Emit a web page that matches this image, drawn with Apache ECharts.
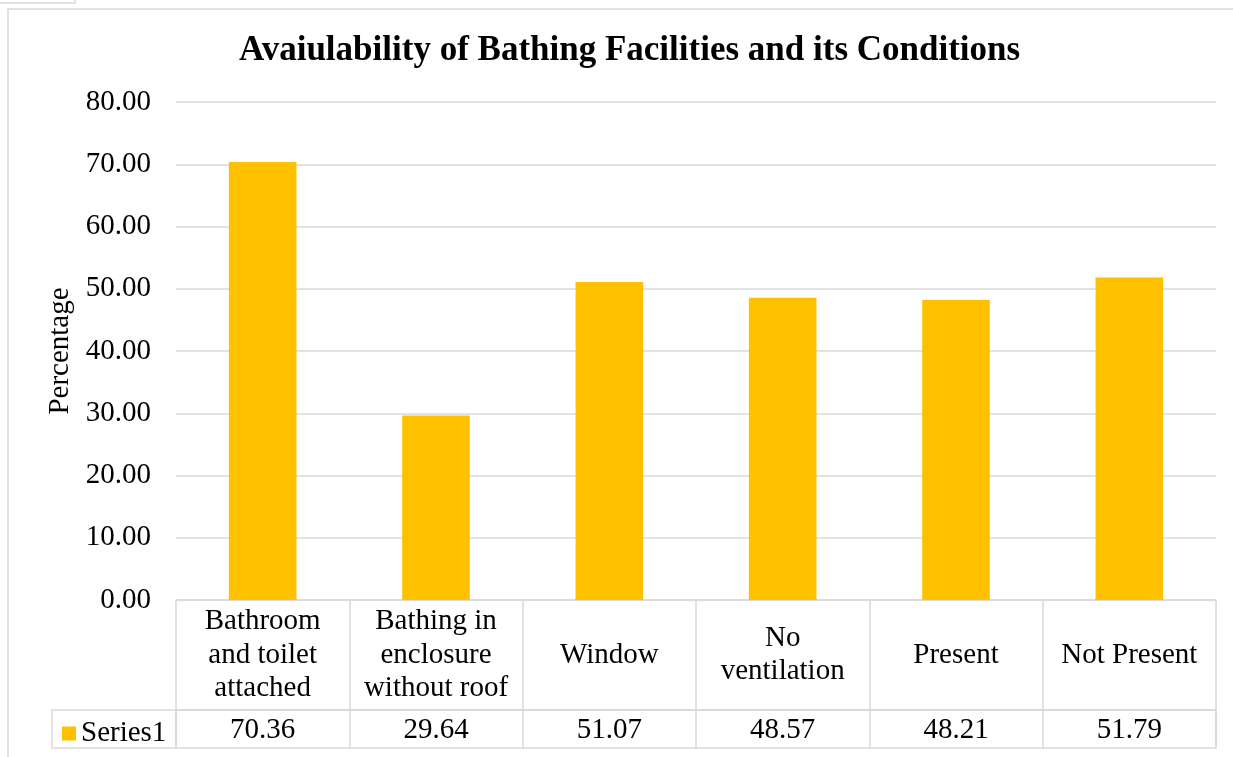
<!DOCTYPE html>
<html>
<head>
<meta charset="utf-8">
<script src="https://cdn.jsdelivr.net/npm/echarts@6/dist/echarts.min.js"></script>
<style>
	html, body { margin: 0; padding: 0; background: #fff; }
	#chart { width: 1233px; height: 757px; }
</style>
</head>
<body>
<div id="chart"></div>
<script>
// data
const categories = [
	'Bathroom\nand toilet\nattached',
	'Bathing in\nenclosure\nwithout roof',
	'Window',
	'No\nventilation',
	'Present',
	'Not Present'
];
const series1 = [70.36, 29.64, 51.07, 48.57, 48.21, 51.79];
const yTicks = [0, 10, 20, 30, 40, 50, 60, 70, 80];

const font = '"Liberation Serif", "Times New Roman", serif';
const gridColor = '#d9d9d9';

let myChart = echarts.init(document.getElementById('chart'));

let option = {
	animation: false,
	textStyle: { fontFamily: font, color: '#000' },
	title: {
		text: 'Avaiulability of Bathing Facilities and its Conditions',
		left: 234,
		top: 28,
		textStyle: { fontFamily: font, fontSize: 35, fontWeight: 'bold', color: '#000' }
	},
	legend: {
		data: ['Series1'],
		left: 57,
		top: 714,
		icon: 'rect',
		itemWidth: 14,
		itemHeight: 14,
		itemGap: 5,
		textStyle: { fontFamily: font, fontSize: 29, color: '#000', padding: [0, 0, 0, 0] }
	},
	grid: { left: 176, right: 17, top: 102, bottom: 157 },
	xAxis: [
		{
			// category row of the data table
			type: 'category',
			data: categories,
			axisLine: { lineStyle: { color: gridColor, width: 1.5 } },
			axisTick: { show: true, length: 148, lineStyle: { color: gridColor, width: 1.5 } },
			axisLabel: {
				interval: 0,
				margin: 55,
				verticalAlign: 'middle',
				fontFamily: font,
				fontSize: 29,
				lineHeight: 33.5,
				color: '#000'
			}
		},
		{
			// value row of the data table
			type: 'category',
			data: categories,
			position: 'bottom',
			offset: 110,
			axisLine: { show: true, lineStyle: { color: gridColor, width: 1.5 } },
			axisTick: { show: false },
			axisLabel: {
				interval: 0,
				margin: 20,
				verticalAlign: 'middle',
				fontFamily: font,
				fontSize: 29,
				color: '#000',
				formatter: function (v, i) {
					return series1[i].toFixed(2);
				}
			}
		}
	],
	yAxis: {
		type: 'value',
		min: yTicks[0],
		max: yTicks[yTicks.length - 1],
		interval: 10,
		name: 'Percentage',
		nameLocation: 'middle',
		nameRotate: 90,
		nameGap: 97,
		nameTextStyle: { fontFamily: font, fontSize: 29, color: '#000' },
		axisLine: { show: false },
		axisTick: { show: false },
		axisLabel: {
			margin: 25,
			fontFamily: font,
			fontSize: 29,
			color: '#000',
			formatter: function (v) { return v.toFixed(2); }
		},
		splitLine: { lineStyle: { color: gridColor, width: 1.5 } }
	},
	series: [
		{
			name: 'Series1',
			type: 'bar',
			data: series1,
			barWidth: '39%',
			itemStyle: { color: '#FFC000' }
		}
	],
	graphic: [
		// chart frame
		{ type: 'rect', shape: { x: 8, y: 9, width: 1240, height: 760 }, style: { fill: 'none', stroke: gridColor, lineWidth: 1.5 }, silent: true },
		{ type: 'rect', shape: { x: -2, y: -10, width: 77, height: 13 }, style: { fill: 'none', stroke: gridColor, lineWidth: 1.5 }, silent: true },
		// value row box of the data table
		{ type: 'rect', shape: { x: 52, y: 710, width: 1164, height: 38 }, style: { fill: 'none', stroke: gridColor, lineWidth: 1.5 }, silent: true },
		{ type: 'line', shape: { x1: 176, y1: 710, x2: 176, y2: 748 }, style: { stroke: gridColor, lineWidth: 1.5 }, silent: true }
	]
};

myChart.setOption(option);
</script>
</body>
</html>
